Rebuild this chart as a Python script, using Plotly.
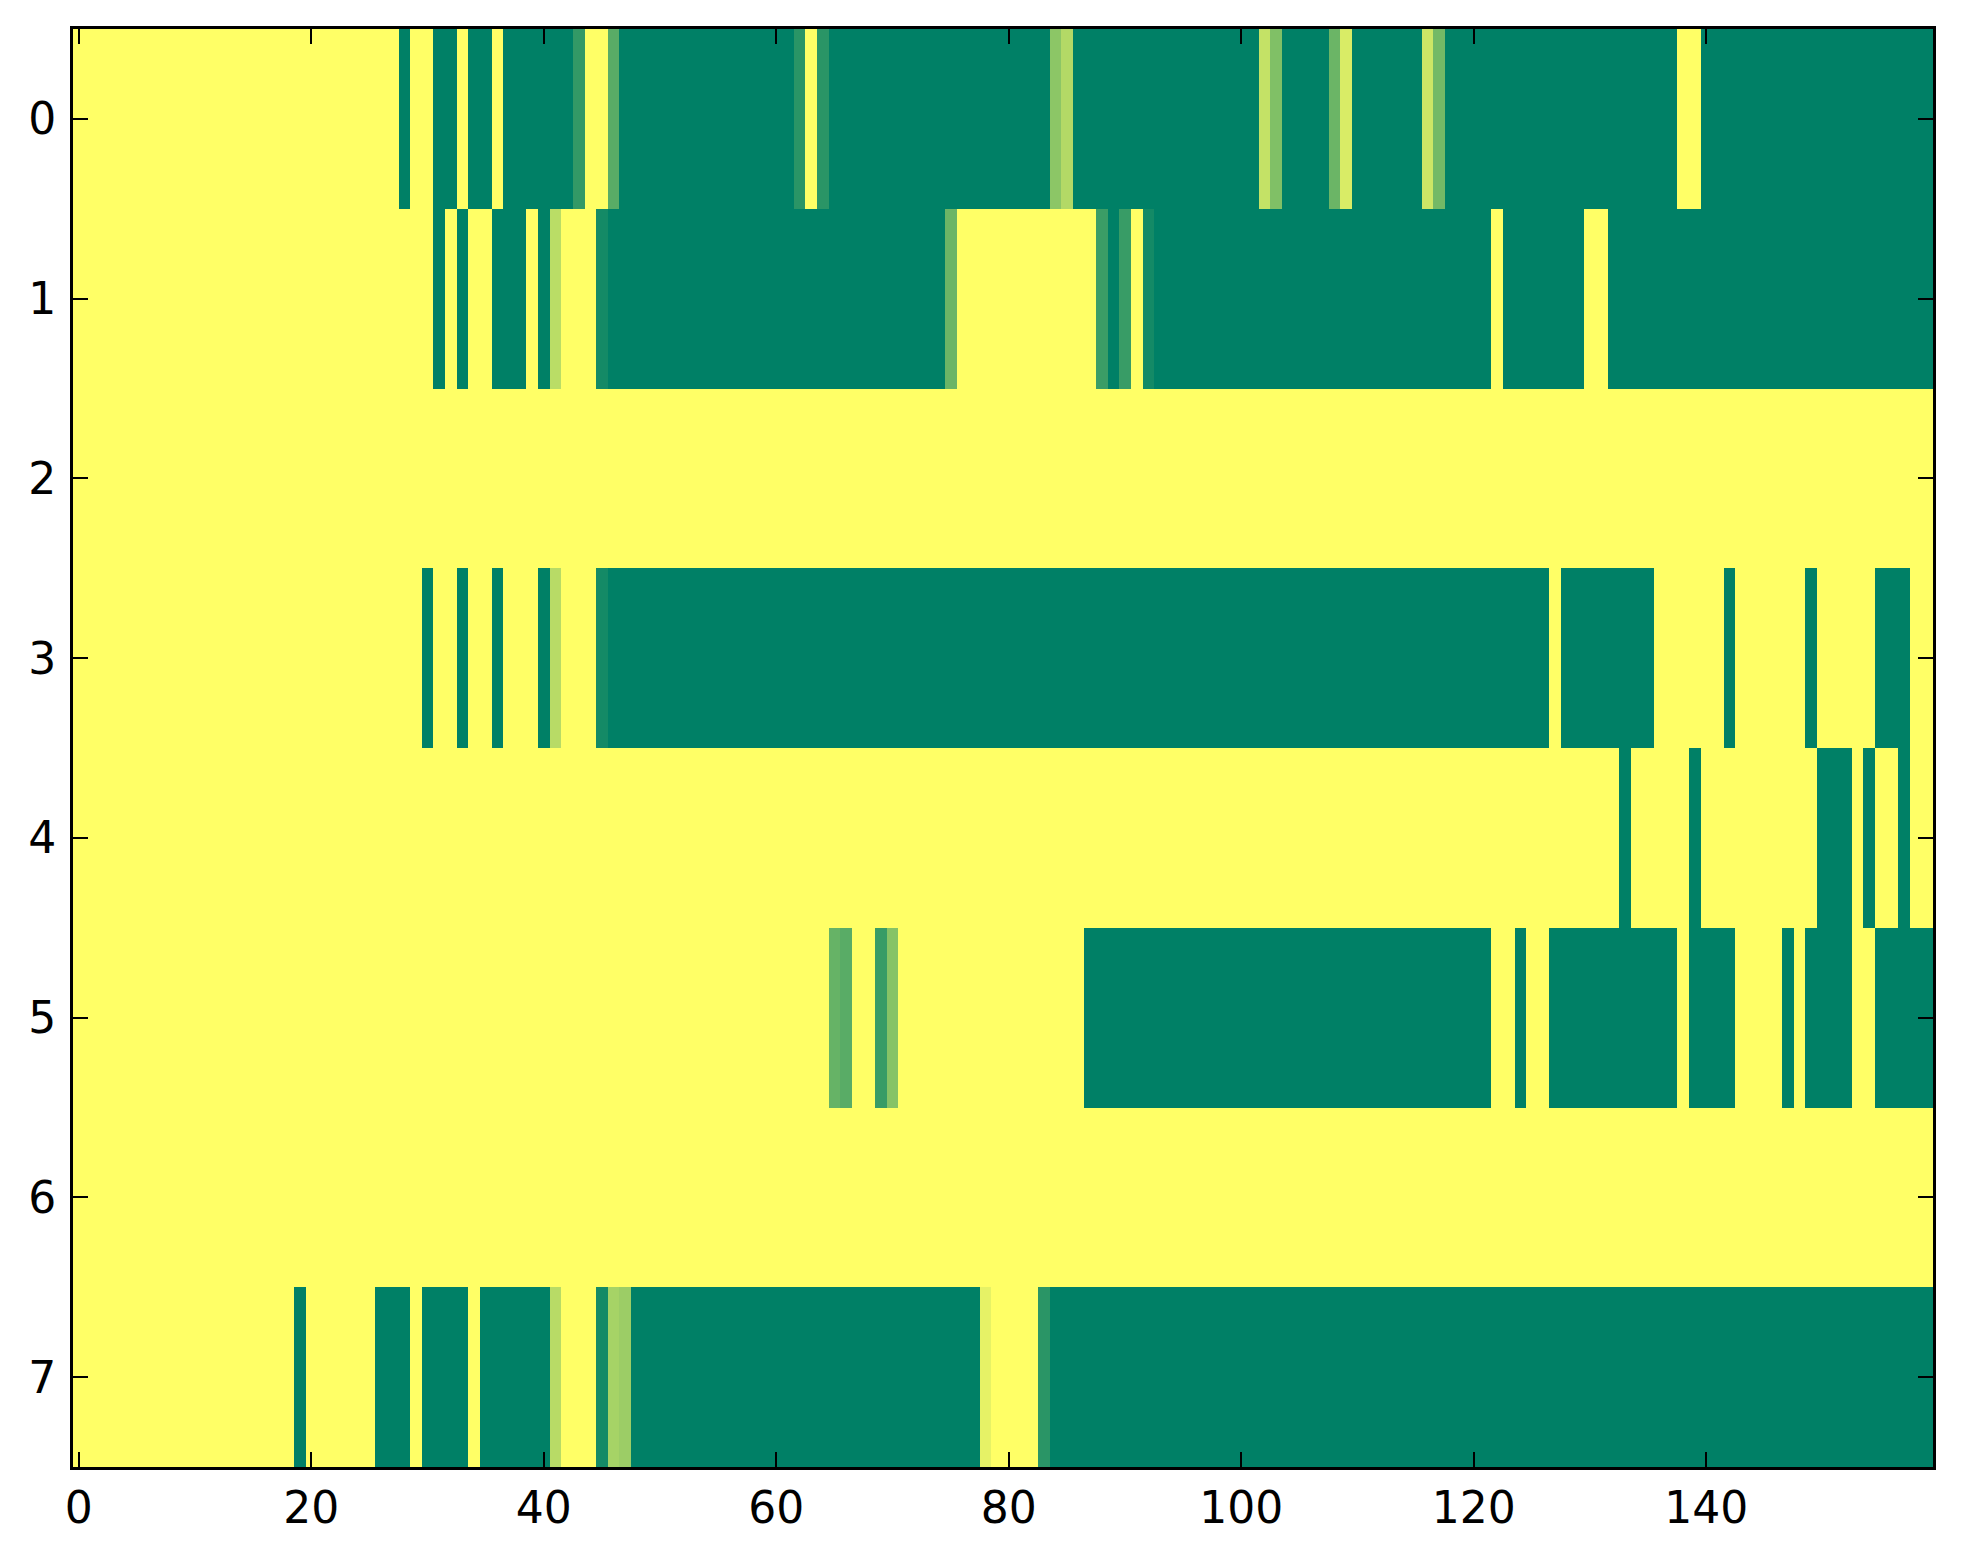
import plotly.graph_objects as go

# Run-length encoded rows: (count, value); value 0 = green, 1 = yellow (summer colormap)
row0_runs = [(28, 1), (1, 0), (2, 1), (2, 0), (1, 1), (2, 0), (1, 1), (6, 0), (1, 0.2), (2, 1),
             (1, 0.35), (15, 0), (1, 0.165), (1, 1), (1, 0.165), (19, 0), (1, 0.55), (1, 0.70),
             (16, 0), (1, 0.77), (1, 0.50), (4, 0), (1, 0.42), (1, 0.85), (6, 0), (1, 0.80),
             (1, 0.45), (20, 0), (2, 1), (20, 0)]
row1_runs = [(31, 1), (1, 0), (1, 1), (1, 0), (2, 1), (3, 0), (1, 1), (1, 0), (1, 0.73), (3, 1),
             (1, 0.08), (29, 0), (1, 0.42), (12, 1), (1, 0.23), (1, 0), (1, 0.22), (1, 1),
             (1, 0.08), (29, 0), (1, 1), (7, 0), (2, 1), (28, 0)]
row2_runs = [(160, 1)]
row3_runs = [(30, 1), (1, 0), (2, 1), (1, 0), (2, 1), (1, 0), (3, 1), (1, 0), (1, 0.72), (3, 1),
             (1, 0.08), (81, 0), (1, 1), (8, 0), (6, 1), (1, 0), (6, 1), (1, 0), (5, 1), (3, 0),
             (2, 1)]
row4_runs = [(133, 1), (1, 0), (5, 1), (1, 0), (10, 1), (3, 0), (1, 1), (1, 0), (2, 1), (1, 0),
             (2, 1)]
row5_runs = [(65, 1), (1, 0.40), (1, 0.35), (2, 1), (1, 0.22), (1, 0.53), (16, 1), (35, 0),
             (2, 1), (1, 0), (2, 1), (11, 0), (1, 1), (4, 0), (4, 1), (1, 0), (1, 1), (4, 0),
             (2, 1), (5, 0)]
row6_runs = [(160, 1)]
row7_runs = [(19, 1), (1, 0), (6, 1), (3, 0), (1, 1), (4, 0), (1, 1), (6, 0), (1, 0.72), (3, 1),
             (1, 0.08), (1, 0.65), (1, 0.61), (30, 0), (1, 0.90), (4, 1), (1, 0.165), (76, 0)]

x_tick_vals = [0, 20, 40, 60, 80, 100, 120, 140]
y_tick_vals = [0, 1, 2, 3, 4, 5, 6, 7]


def expand(runs):
    out = []
    for n, v in runs:
        out.extend([v] * n)
    return out


rows = [expand(r) for r in (row0_runs, row1_runs, row2_runs, row3_runs,
                            row4_runs, row5_runs, row6_runs, row7_runs)]
ncols = len(rows[0])

summer = [[0.0, "rgb(0,128,102)"], [1.0, "rgb(255,255,102)"]]

fig = go.Figure(go.Heatmap(
    z=rows,
    x=list(range(ncols)),
    y=list(range(len(rows))),
    colorscale=summer,
    zmin=0, zmax=1,
    showscale=False,
    hoverinfo="skip",
))

axis_common = dict(
    showline=True, linecolor="black", linewidth=3, mirror="ticks",
    ticks="inside", ticklen=15, tickwidth=2, tickcolor="black",
    showgrid=False, zeroline=False,
    tickfont=dict(family="DejaVu Sans", size=44, color="black"),
)

fig.update_layout(
    width=1963, height=1564,
    margin=dict(l=65, r=38, t=21, b=105),
    paper_bgcolor="white", plot_bgcolor="white",
    xaxis=dict(range=[-0.5, ncols - 0.5], tickvals=x_tick_vals, ticklabelstandoff=0, **axis_common),
    yaxis=dict(range=[len(rows) - 0.5, -0.5], tickvals=y_tick_vals, ticklabelstandoff=5, **axis_common),
)

fig.write_html("out.html")
